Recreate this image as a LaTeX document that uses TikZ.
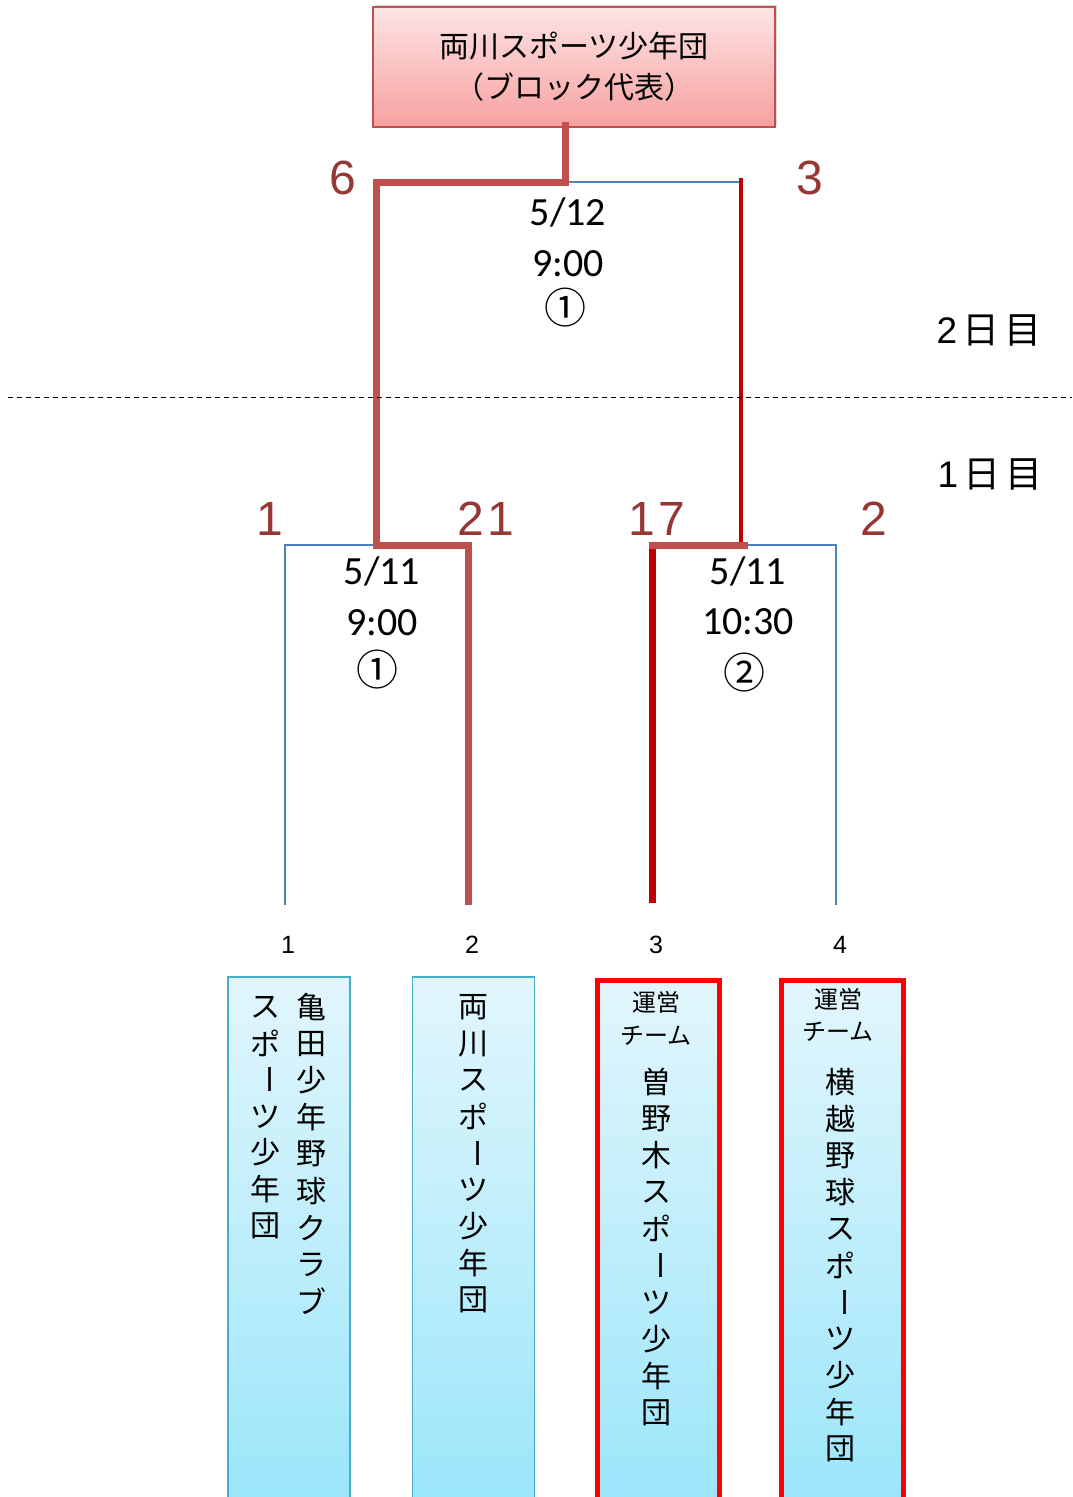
\documentclass[tikz,border=0pt]{standalone}
\usepackage{fontspec}
\setmainfont{Liberation Sans}
\newfontfamily\jpfont{Noto Sans CJK JP}
\newfontfamily\datefont{Carlito}
\usetikzlibrary{shadows}
\definecolor{winline}{RGB}{192,80,77}
\definecolor{hostred}{RGB}{192,0,0}
\definecolor{pathblue}{RGB}{79,129,189}
\definecolor{scorered}{RGB}{149,55,53}
\definecolor{pinktop}{RGB}{253,228,228}
\definecolor{pinkbot}{RGB}{247,160,160}
\definecolor{cyantop}{RGB}{226,246,252}
\definecolor{cyanbot}{RGB}{155,230,250}
\definecolor{teamedge}{RGB}{75,172,198}
\newcommand\tate{\rotatebox[origin=c]{-90}{ー}}
\tikzset{every picture/.style={line width=0.75pt}}
\tikzset{
  score/.style={color=scorered, font=\fontsize{48}{50}\selectfont, inner sep=0.75pt},
  when/.style={font=\datefont\fontsize{40}{44}\selectfont, inner sep=0.75pt},
  game/.style={font=\jpfont\fontsize{42}{44}\selectfont, inner sep=0.75pt},
  slot/.style={font=\fontsize{25}{27}\selectfont, inner sep=0.75pt},
  daylbl/.style={font=\fontsize{37}{39}\selectfont, inner sep=0.75pt},
  team/.style={draw=teamedge, line width=1.5pt, top color=cyantop, bottom color=cyanbot, minimum width=122, minimum height=521},
  hostteam/.style={team, draw=red, line width=5pt},
  kanji/.style={font=\jpfont\fontsize{30}{32}\selectfont, inner sep=0pt},
  small/.style={font=\jpfont\fontsize{24}{26}\selectfont, inner sep=0pt}
}

\begin{document}
\begin{tikzpicture}[x=1pt,y=1pt,yscale=-1,xscale=1]
\useasboundingbox (0,0) rectangle (1072,1497);
% block winner
\node (winner) [draw=winline, line width=1.5pt, top color=pinktop, bottom color=pinkbot, minimum width=402, minimum height=120, drop shadow={opacity=0.3, shadow xshift=2pt, shadow yshift=2pt}, align=center, font=\jpfont\fontsize{30}{41}\selectfont] at (574,67) {両川スポーツ少年団\\（ブロック代表）};
% thin bracket lines
\coordinate (finalL) at (376,182);
\coordinate (finalM) at (565,182);
\coordinate (finalR) at (741,182);
\coordinate (semiAl) at (285,545);
\coordinate (semiAm) at (376,545);
\coordinate (semiAr) at (468,545);
\coordinate (semiBl) at (652,545);
\coordinate (semiBm) at (741,545);
\coordinate (semiBr) at (836,545);
\coordinate (foot1) at (285,905);
\coordinate (foot2) at (468,905);
\coordinate (foot3) at (652,903);
\coordinate (foot4) at (836,905);
\draw [color=pathblue, line width=1.5pt] (finalM) -- (finalR);
\draw [color=pathblue, line width=1.5pt] (foot1) -- (semiAl) -- (semiAr) -- (foot2);
\draw [color=pathblue, line width=1.5pt] (foot3) -- (semiBl) -- (semiBr) -- (foot4);
% winning path
\draw [color=winline, line width=7pt] ([yshift=-6pt]finalM |- winner.south) -- (finalM) -- ([xshift=-3.5pt]finalL) (finalL) -- (semiAm) -- (semiAr) -- (foot2);
\draw [color=hostred, line width=4pt] ([yshift=-4pt]finalR) -- (semiBm);
\draw [color=winline, line width=7pt] ([xshift=-3.5pt]semiBl) -- ([xshift=7pt]semiBm);
\draw [color=hostred, line width=7pt] ([yshift=3.5pt]semiBl) -- (foot3);
% dates
\draw (568,212) node (finaldate) [when] {5/12};
\draw (568,264) node (finaltime) [when] {9:00};
\draw (565,308) node (finalno) [game] {①};
\draw (382,571) node (semiAdate) [when] {5/11};
\draw (382,623) node (semiAtime) [when] {9:00};
\draw (377,670) node (semiAno) [game] {①};
\draw (748,571) node (semiBdate) [when] {5/11};
\draw (748,622) node (semiBtime) [when] {10:30};
\draw (744,673) node (semiBno) [game] {②};
% scores
\draw (343,178) node (sc6) [score] {6};
\draw (810,178) node (sc3) [score] {3};
\draw (270,519) node (sc1) [score] {1};
\draw (486,519) node (sc21) [score] {2\kern4pt1};
\draw (657,519) node (sc17) [score] {1\kern4pt7};
\draw (874,519) node (sc2) [score] {2};
% day divider
\draw [dashed, line width=1pt, dash pattern=on 5pt off 4pt] (8,397) -- (1072,397);
\draw (989,330) node (day2) [daylbl] {2\kern5pt{\jpfont 日\kern5pt 目}};
\draw (990,474) node (day1) [daylbl] {1\kern5pt{\jpfont 日\kern5pt 目}};
% slots
\draw (288,945) node (slot1) [slot] {1};
\draw (472,945) node (slot2) [slot] {2};
\draw (656,945) node (slot3) [slot] {3};
\draw (840,945) node (slot4) [slot] {4};
% teams
\node (team1) [team, anchor=north] at (289,976) {};
\node (team2) [team, anchor=north] at (473.5,976) {};
\node (team3) [hostteam, anchor=north] at (658,978) {};
\node (team4) [hostteam, anchor=north] at (842,978) {};
\foreach \ch [count=\i] in {亀,田,少,年,野,球,ク,ラ,ブ}
  \node (kameda\i) [kanji] at (311,{1007+(\i-1)*36.8}) {\ch};
\foreach \ch [count=\i] in {ス,ポ,\tate,ツ,少,年,団}
  \node (kamedasub\i) [kanji] at (265,{1007+(\i-1)*36.4}) {\ch};
\foreach \ch [count=\i] in {両,川,ス,ポ,\tate,ツ,少,年,団}
  \node (ryokawa\i) [kanji] at (473,{1007+(\i-1)*36.6}) {\ch};
\draw (656,1002) node (unei3) [small] {運営};
\draw (656,1036) node (team3sub) [small] {チーム};
\foreach \ch [count=\i] in {曽,野,木,ス,ポ,\tate,ツ,少,年,団}
  \node (sonoki\i) [kanji] at (656,{1082+(\i-1)*36.7}) {\ch};
\draw (838,999) node (unei4) [small] {運営};
\draw (838,1032) node (team4sub) [small] {チーム};
\foreach \ch [count=\i] in {横,越,野,球,ス,ポ,\tate,ツ,少,年,団}
  \node (yokogoshi\i) [kanji] at (840,{1082+(\i-1)*36.7}) {\ch};
\end{tikzpicture}
\end{document}
